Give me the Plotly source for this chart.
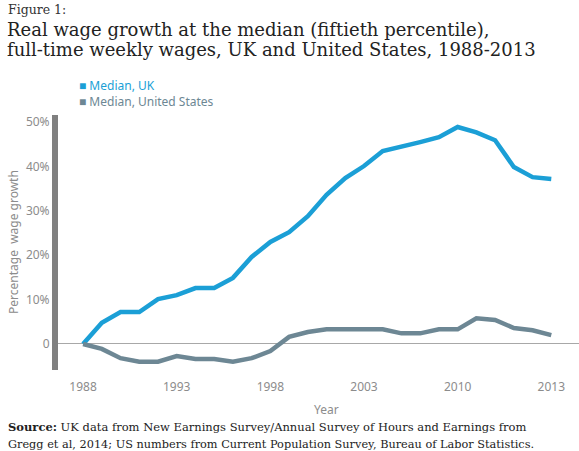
import plotly.graph_objects as go

years = list(range(1988, 2014))
uk = [0, 4.8, 7.2, 7.2, 10.1, 11.0, 12.6, 12.6, 14.9, 19.6, 23.0, 25.2, 28.8, 33.6,
      37.4, 40.1, 43.5, 44.4, 45.5, 46.6, 48.9, 47.7, 45.9, 39.9, 37.6, 37.2]
us = [0, -1.1, -3.2, -4.0, -4.0, -2.7, -3.4, -3.4, -4.0, -3.2, -1.6, 1.6, 2.7, 3.3,
      3.3, 3.3, 3.3, 2.4, 2.4, 3.3, 3.3, 5.8, 5.4, 3.6, 3.1, 2.0]
x_tickvals = [1988, 1993, 1998, 2003, 2008, 2013]
x_ticktext = ["1988", "1993", "1998", "2003", "2010", "2013"]
y_tickvals = [0, 10, 20, 30, 40, 50]
y_ticktext = ["0", "10%", "20%", "30%", "40%", "50%"]

UK_COL = "#1b9fd6"
US_COL = "#6d8794"
GRAY = "#8c8c8c"
SANS = "Noto Sans, Open Sans, sans-serif"
SERIF = "DejaVu Serif, Liberation Serif, serif"

W, H = 579, 451
L, R, T, B = 58, 0, 115, 81
pw, ph = W - L - R, H - T - B
def px(x):
    return (x - L) / pw
def py(y):
    return (H - B - y) / ph

fig = go.Figure()
fig.add_trace(go.Scatter(x=years, y=uk, mode="lines", name="Median, UK",
                         line=dict(color=UK_COL, width=4.5), showlegend=False))
fig.add_trace(go.Scatter(x=years, y=us, mode="lines", name="Median, United States",
                         line=dict(color=US_COL, width=4.5), showlegend=False))

anns = [
    dict(text="Figure 1:", x=px(6), y=py(10), xanchor="left", yanchor="middle",
         font=dict(family=SERIF, size=12.5, color="#333333")),
    dict(text="Real wage growth at the median (fiftieth percentile),",
         x=px(5), y=py(29), xanchor="left", yanchor="middle",
         font=dict(family=SERIF, size=18, color="#222222")),
    dict(text="full-time weekly wages, UK and United States, 1988-2013",
         x=px(5), y=py(49), xanchor="left", yanchor="middle",
         font=dict(family=SERIF, size=18, color="#222222")),
    dict(text="■ Median, UK", x=px(77), y=py(86),
         xanchor="left", yanchor="middle", font=dict(family=SANS, size=12, color=UK_COL)),
    dict(text="■ Median, United States", x=px(77), y=py(102),
         xanchor="left", yanchor="middle", font=dict(family=SANS, size=12, color=US_COL)),
    dict(text="Percentage  wage growth", x=px(13), y=py(242), textangle=-90,
         xanchor="center", yanchor="middle", font=dict(family=SANS, size=12, color=GRAY)),
    dict(text="Year", x=px(326), y=py(409), xanchor="center", yanchor="middle",
         font=dict(family=SANS, size=12, color=GRAY)),
    dict(text="<b>Source:</b> UK data from New Earnings Survey/Annual Survey of Hours and Earnings from",
         x=px(6), y=py(427), xanchor="left", yanchor="middle",
         font=dict(family=SERIF, size=11.5, color="#222222")),
    dict(text="Gregg et al, 2014; US numbers from Current Population Survey, Bureau of Labor Statistics.",
         x=px(6), y=py(444), xanchor="left", yanchor="middle",
         font=dict(family=SERIF, size=11.3, color="#222222")),
]
for a in anns:
    a.update(xref="paper", yref="paper", showarrow=False)

fig.update_layout(
    width=W, height=H,
    margin=dict(l=L, r=R, t=T, b=B),
    paper_bgcolor="white", plot_bgcolor="white",
    font=dict(family=SANS, size=12, color=GRAY),
    xaxis=dict(range=[1986.66, 2014.48], tickvals=x_tickvals, ticktext=x_ticktext,
               showgrid=False, zeroline=False, showline=False, ticks="",
               ticklabelstandoff=8,
               tickfont=dict(size=12, color=GRAY)),
    yaxis=dict(range=[-5.86, 51.6], tickvals=y_tickvals, ticktext=y_ticktext,
               showgrid=False, zeroline=True, zerolinecolor="#a8a8a8", zerolinewidth=1,
               showline=True, linecolor="#808080", linewidth=6, ticks="",
               tickfont=dict(size=12, color=GRAY)),
    annotations=anns,
)

fig.write_html("out.html", config={"displayModeBar": False},
               post_script="document.body.style.margin='0';")
